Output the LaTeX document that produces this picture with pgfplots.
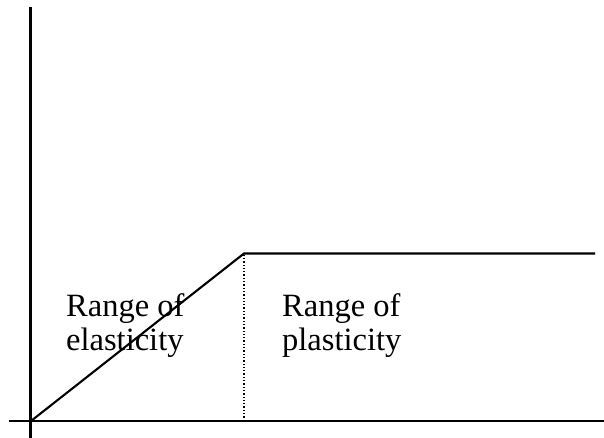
\documentclass[border=0pt]{standalone}
\usepackage{fontspec}
\setmainfont{Liberation Serif}
\usepackage{pgfplots}
\pgfplotsset{compat=1.18}
\begin{document}
\begin{tikzpicture}
\begin{axis}[
  scale only axis, width=604pt, height=438pt,
  xmin=0, xmax=604, ymin=0, ymax=438,
  axis lines=none, clip=false,
]
% axes
\addplot[black, line width=2.1pt] coordinates {(30.5,431) (30.5,0)};
\addplot[black, line width=2.1pt] coordinates {(9,17) (604,17)};
% curve
\addplot[black, line width=2.1pt] coordinates {(31,17) (244,184.5) (595,184.5)};
% dotted separator
\addplot[black, line width=1.3pt, dotted] coordinates {(244,17) (244,184)};
\node[anchor=base west, inner sep=0pt, font=\fontsize{32.5}{38}\selectfont] at (axis cs:66,121) {Range of};
\node[anchor=base west, inner sep=0pt, font=\fontsize{32.5}{38}\selectfont] at (axis cs:66,87) {elasticity};
\node[anchor=base west, inner sep=0pt, font=\fontsize{32.5}{38}\selectfont] at (axis cs:282,121) {Range of};
\node[anchor=base west, inner sep=0pt, font=\fontsize{32.5}{38}\selectfont] at (axis cs:282,87) {plasticity};
\end{axis}
\pgfresetboundingbox
\path (current axis.south west) rectangle (current axis.north east);
\end{tikzpicture}
\end{document}
